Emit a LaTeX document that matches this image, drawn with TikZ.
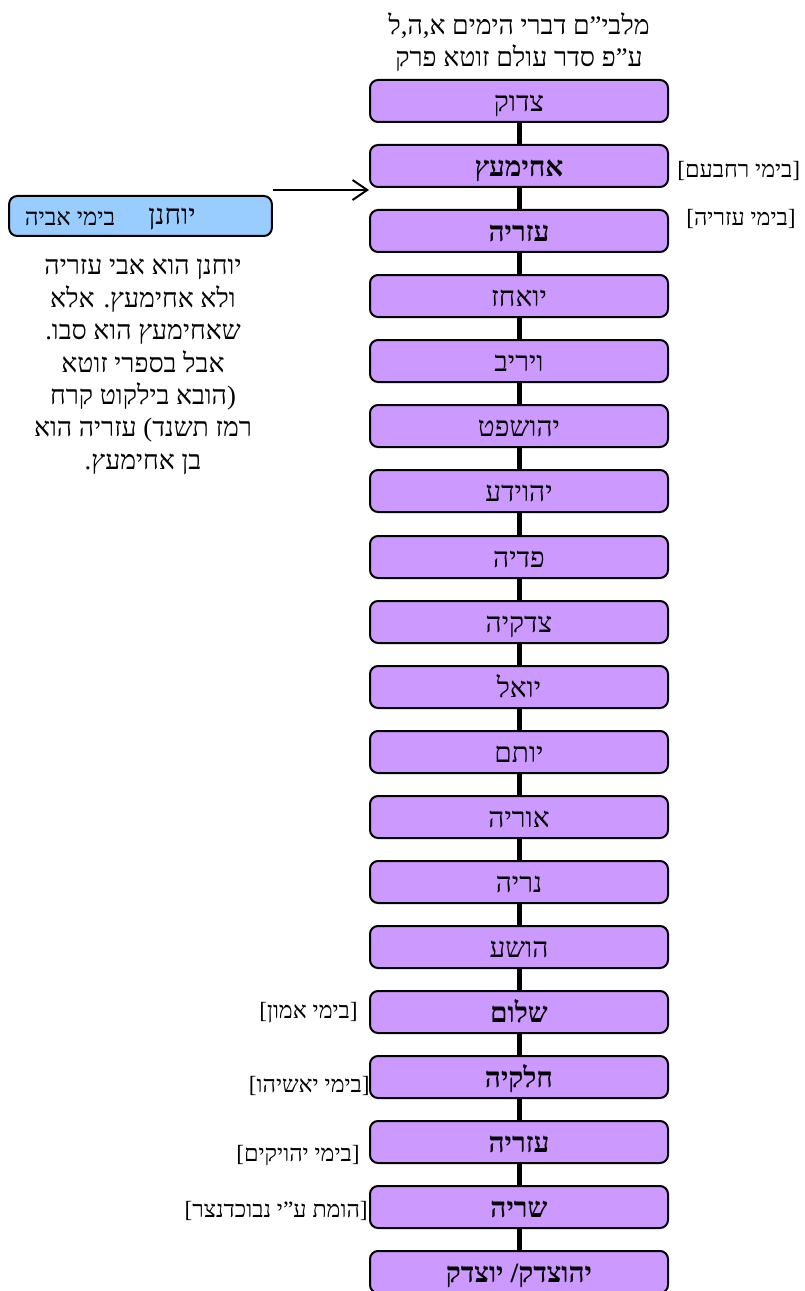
\documentclass[tikz,border=0pt]{standalone}
\usepackage{fontspec}
\setmainfont{Liberation Serif}[Script=Hebrew]
\usetikzlibrary{arrows.meta}
\TeXXeTstate=1
\newcommand{\rtl}[1]{\beginR #1\endR}
\definecolor{lilac}{HTML}{CC99FF}
\definecolor{skyblue}{HTML}{99CCFF}

\begin{document}
\begin{tikzpicture}[
  x=0.75pt, y=-0.75pt,
  priest/.style={draw, line width=1.5pt, rounded corners=6pt, fill=lilac,
    minimum width=223.5pt, minimum height=31.5pt, inner sep=0pt,
    text height=16pt, text depth=0.5pt,
    font=\fontsize{21}{24}\selectfont},
  chief/.style={priest, font=\fontsize{21}{24}\selectfont\bfseries},
  era/.style={inner sep=0pt, yshift=-2.25pt, font=\fontsize{17.5}{20}\selectfont},
  remark/.style={align=center, inner sep=0pt, yshift=-2.6pt, font=\fontsize{20}{24.3}\selectfont},
  chain/.style={line width=3.75pt},
  pointer/.style={line width=1.5pt, -{Straight Barb[length=11pt,width=15pt]}}
]
  \useasboundingbox (0,0) rectangle (804,1291);

  % Title
  \node[remark] (title) at (519,38.5)
    {\rtl{מלבי"ם דברי הימים א,ה,ל}\\\rtl{ע"פ סדר עולם זוטא פרק}};

  % High priests (top to bottom)
  \node[priest] (tzadok)     at (519,101)  {\rtl{צדוק}};
  \node[chief]  (achimaatz)  at (519,166)  {\rtl{אחימעץ}};
  \node[chief]  (azaryaA)    at (519,231)  {\rtl{עזריה}};
  \node[priest] (yoachaz)    at (519,296)  {\rtl{יואחז}};
  \node[priest] (yariv)      at (519,361)  {\rtl{ויריב}};
  \node[priest] (yehoshafat) at (519,426)  {\rtl{יהושפט}};
  \node[priest] (yehoyada)   at (519,491)  {\rtl{יהוידע}};
  \node[priest] (pedaya)     at (519,557)  {\rtl{פדיה}};
  \node[priest] (tzidkiya)   at (519,622)  {\rtl{צדקיה}};
  \node[priest] (yoel)       at (519,687)  {\rtl{יואל}};
  \node[priest] (yotam)      at (519,752)  {\rtl{יותם}};
  \node[priest] (uriya)      at (519,817)  {\rtl{אוריה}};
  \node[priest] (neriya)     at (519,882)  {\rtl{נריה}};
  \node[priest] (hoshea)     at (519,947)  {\rtl{הושע}};
  \node[chief]  (shalom)     at (519,1012) {\rtl{שלום}};
  \node[chief]  (chilkiya)   at (519,1077) {\rtl{חלקיה}};
  \node[chief]  (azaryaB)    at (519,1142) {\rtl{עזריה}};
  \node[chief]  (seraya)     at (519,1207) {\rtl{שריה}};
  \node[chief]  (yehotzadak) at (519,1272) {\rtl{יהוצדק/ יוצדק}};

  % Links
  \foreach \a/\b in {tzadok/achimaatz, achimaatz/azaryaA, azaryaA/yoachaz,
      yoachaz/yariv, yariv/yehoshafat, yehoshafat/yehoyada, yehoyada/pedaya,
      pedaya/tzidkiya, tzidkiya/yoel, yoel/yotam, yotam/uriya, uriya/neriya,
      neriya/hoshea, hoshea/shalom, shalom/chilkiya, chilkiya/azaryaB,
      azaryaB/seraya, seraya/yehotzadak}
    \draw[chain] (\a) -- (\b);

  % Right annotations
  \node[era, anchor=west] (rechavam) at (677,168) {\rtl{[בימי רחבעם]}};
  \node[era] (azaryaera) at (741,216) {\rtl{[בימי עזריה]}};

  % Left annotations
  \node[era, anchor=east] (amon)      at (358,1010) {\rtl{[בימי אמון]}};
  \node[era, anchor=east] (yoshiyahu) at (370,1083) {\rtl{[בימי יאשיהו]}};
  \node[era, anchor=east] (yehoyakim) at (360,1153) {\rtl{[בימי יהויקים]}};
  \node[era, anchor=east] (nevuchad)  at (368,1208) {\rtl{[הומת ע"י נבוכדנצר]}};

  % Yochanan box and note
  \node[draw, line width=1.5pt, rounded corners=6pt, fill=skyblue,
    minimum width=197pt, minimum height=30pt] (yochanan) at (140.5,216) {};
  \node[inner sep=0pt, yshift=-2.25pt, font=\fontsize{21}{24}\selectfont] (yochanantxt) at (172,216) {\rtl{יוחנן}};
  \node[inner sep=0pt, yshift=-2.25pt, font=\fontsize{18}{20}\selectfont] (aviyah) at (70,216) {\rtl{בימי אביה}};
  \coordinate (tail) at (273,190);
  \draw[pointer] (tail) -- (tail -| achimaatz.west);

  \node[remark] (note) at (143,363.5)
    {\rtl{יוחנן הוא אבי עזריה}\\\rtl{ולא אחימעץ. אלא}\\\rtl{שאחימעץ הוא סבו.}\\
     \rtl{אבל בספרי זוטא}\\\rtl{(הובא בילקוט קרח}\\\rtl{רמז תשנד) עזריה הוא}\\
     \rtl{בן אחימעץ.}};
\end{tikzpicture}
\end{document}
